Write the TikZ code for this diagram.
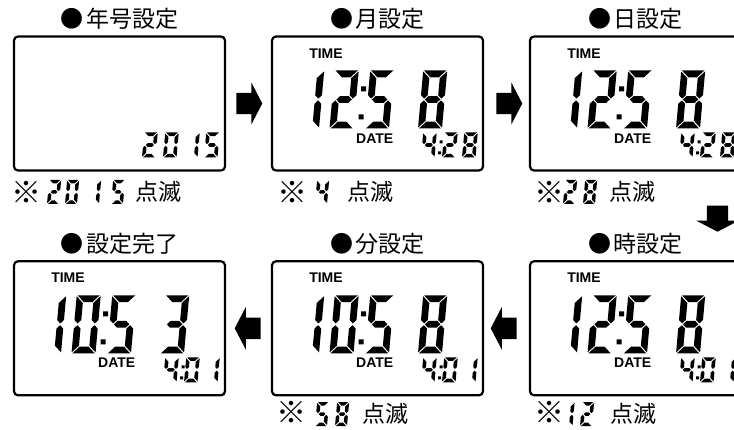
\documentclass[tikz,border=0pt]{standalone}
\usepackage{fontspec}
\setsansfont{Liberation Sans}
\newfontfamily\jpfont{Noto Sans CJK JP}
\usetikzlibrary{shapes.arrows, calc, positioning}

\tikzset{%
  % Specifications for style of nodes:
      screen/.style = {rectangle, rounded corners=4pt, draw=black,
                       line width=2.2pt, minimum width=211pt,
                       minimum height=134pt, inner sep=0pt, outer sep=0pt},
       title/.style = {font=\jpfont\fontsize{23}{26}\selectfont,
                       inner sep=0pt, anchor=base},
        note/.style = {title},
    notemark/.style = {font=\jpfont\fontsize{30}{32}\selectfont,
                       inner sep=0pt, anchor=base},
      lcdtag/.style = {font=\sffamily\bfseries\fontsize{14}{16}\selectfont,
                       inner sep=0pt},
  blockarrow/.style = {single arrow, fill=black, draw=none,
                       inner xsep=0pt, inner ysep=10.5pt,
                       minimum height=26pt, single arrow head extend=10.5pt,
                       single arrow tip angle=125},
}

% seven segment digits (a top, b/c right, d bottom, e/f left, g middle)
\newcommand\sega{\fill (\lcdG,\lcdH) -- ({\lcdW-\lcdG},\lcdH)
  -- ({\lcdW-\lcdT-\lcdG},{\lcdH-\lcdT}) -- ({\lcdT+\lcdG},{\lcdH-\lcdT}) -- cycle;}
\newcommand\segd{\fill (\lcdG,0) -- ({\lcdW-\lcdG},0)
  -- ({\lcdW-\lcdT-\lcdG},\lcdT) -- ({\lcdT+\lcdG},\lcdT) -- cycle;}
\newcommand\segb{\fill (\lcdW,{\lcdH-\lcdG}) -- ({\lcdW-\lcdT},{\lcdH-\lcdT-\lcdG})
  -- ({\lcdW-\lcdT},{\lcdH/2+\lcdh+\lcdG}) -- ({\lcdW-\lcdh},{\lcdH/2+\lcdG})
  -- (\lcdW,{\lcdH/2+\lcdh+\lcdG}) -- cycle;}
\newcommand\segc{\fill (\lcdW,\lcdG) -- ({\lcdW-\lcdT},{\lcdT+\lcdG})
  -- ({\lcdW-\lcdT},{\lcdH/2-\lcdh-\lcdG}) -- ({\lcdW-\lcdh},{\lcdH/2-\lcdG})
  -- (\lcdW,{\lcdH/2-\lcdh-\lcdG}) -- cycle;}
\newcommand\sege{\fill (0,\lcdG) -- (\lcdT,{\lcdT+\lcdG})
  -- (\lcdT,{\lcdH/2-\lcdh-\lcdG}) -- (\lcdh,{\lcdH/2-\lcdG})
  -- (0,{\lcdH/2-\lcdh-\lcdG}) -- cycle;}
\newcommand\segf{\fill (0,{\lcdH-\lcdG}) -- (\lcdT,{\lcdH-\lcdT-\lcdG})
  -- (\lcdT,{\lcdH/2+\lcdh+\lcdG}) -- (\lcdh,{\lcdH/2+\lcdG})
  -- (0,{\lcdH/2+\lcdh+\lcdG}) -- cycle;}
\newcommand\segg{\fill ({\lcdh+\lcdG},{\lcdH/2}) -- ({\lcdT+\lcdG},{\lcdH/2+\lcdh})
  -- ({\lcdW-\lcdT-\lcdG},{\lcdH/2+\lcdh}) -- ({\lcdW-\lcdh-\lcdG},{\lcdH/2})
  -- ({\lcdW-\lcdT-\lcdG},{\lcdH/2-\lcdh}) -- ({\lcdT+\lcdG},{\lcdH/2-\lcdh}) -- cycle;}
\def\lcdzero{a,b,c,d,e,f}
\def\lcdone{b,c}
\def\lcdtwo{a,b,g,e,d}
\def\lcdthree{a,b,g,c,d}
\def\lcdfour{f,g,b,c}
\def\lcdfive{a,f,g,c,d}
\def\lcdeight{a,b,c,d,e,f,g}
\newcommand\lcddigit[6]{% x, y, width, height, stroke, segments
  \begin{scope}[shift={(#1,#2)}]
  \begin{scope}[xslant=0.09]
    \def\lcdW{#3}\def\lcdH{#4}\def\lcdT{#5}\pgfmathsetmacro\lcdh{#5/2}
    \def\lcdG{0.9}
    \foreach \s in #6 {\csname seg\s\endcsname}
  \end{scope}
  \end{scope}}
\newcommand\bigdigit[3]{\lcddigit{#1}{#2}{24}{58}{6.8}{#3}}
\newcommand\smalldigit[3]{\lcddigit{#1}{#2}{13.5}{25}{3.6}{#3}}
\newcommand\notedigit[3]{\lcddigit{#1}{#2}{12}{24}{3.5}{#3}}

% TIME / DATE read-out inside a panel
\newcommand\clockface[8]{%
  \node (#1-time) [lcdtag] at ($(#1.north west)+(54,-16.7)$) {TIME};
  \node (#1-date) [lcdtag] at ($(#1.north west)+(102.7,-101.7)$) {DATE};
  \begin{scope}[shift={(#1.south west)}]
    \bigdigit{23}{42}{#2} \bigdigit{57.5}{42}{#3}
    \bigdigit{93}{42}{#4} \bigdigit{146}{42}{#5}
    \fill (86.5,51) rectangle ++(5,5) (89,79) rectangle ++(5,5);
    \smalldigit{149}{13}{#6} \smalldigit{170}{13}{#7}
    \smalldigit{190}{13}{#8}
    \fill (166,16) rectangle ++(3,3) (167.5,27) rectangle ++(3,3);
  \end{scope}}

\begin{document}
\begin{tikzpicture}[x=1pt, y=1pt, node distance=258pt]
  \useasboundingbox (0,0) rectangle (734,429);
  \clip (0,0) rectangle (734,429);
  % Specification of panels (upper row, then lower row)
  \node (year)   [screen] at (119.5,325.5) {};
  \node (month)  [screen, right of=year]   {};
  \node (day)    [screen, right of=month]  {};
  \node (done)   [screen] at (119.5,100.7) {};
  \node (minute) [screen, right of=done]   {};
  \node (hour)   [screen, right of=minute] {};

  % titles above the panels
  \node (tyear)   [above=9pt of year, title]   {●\hspace{3pt}年号設定};
  \node (tmonth)  [above=9pt of month, title]  {●\hspace{3pt}月設定};
  \node (tday)    [above=9pt of day, title]    {●\hspace{3pt}日設定};
  \node (tdone)   [above=9pt of done, title]   {●\hspace{3pt}設定完了};
  \node (tminute) [above=9pt of minute, title] {●\hspace{3pt}分設定};
  \node (thour)   [above=9pt of hour, title]   {●\hspace{3pt}時設定};

  % what the panels show
  \begin{scope}[shift={(year.south west)}]
    \smalldigit{128}{13}{\lcdtwo}   \smalldigit{149}{13}{\lcdzero}
    \smalldigit{170}{13}{\lcdone}   \smalldigit{190}{13}{\lcdfive}
  \end{scope}
  \clockface{month}{\lcdone}{\lcdtwo}{\lcdfive}{\lcdeight}{\lcdfour}{\lcdtwo}{\lcdeight}
  \clockface{day}{\lcdone}{\lcdtwo}{\lcdfive}{\lcdeight}{\lcdfour}{\lcdtwo}{\lcdeight}
  \clockface{hour}{\lcdone}{\lcdtwo}{\lcdfive}{\lcdeight}{\lcdfour}{\lcdzero}{\lcdone}
  \clockface{minute}{\lcdone}{\lcdzero}{\lcdfive}{\lcdeight}{\lcdfour}{\lcdzero}{\lcdone}
  \clockface{done}{\lcdone}{\lcdzero}{\lcdfive}{\lcdthree}{\lcdfour}{\lcdzero}{\lcdone}

  % notes on what blinks
  \node (nyear)   [notemark] at (26.5,225.6) {※};
  \node (byear)   [note] at (158.5,228.3) {点滅};
  \notedigit{47}{225}{\lcdtwo} \notedigit{65}{225}{\lcdzero}
  \notedigit{87}{225}{\lcdone} \notedigit{111}{225}{\lcdfive}
  \node (nmonth)  [notemark] at (292.5,225.6) {※};
  \node (bmonth)  [note] at (370,228.3)   {点滅};
  \notedigit{315}{225}{\lcdfour}
  \node (nday)    [notemark] at (549,225.6) {※};
  \node (bday)    [note] at (632,228.3)   {点滅};
  \notedigit{563}{225}{\lcdtwo} \notedigit{583}{225}{\lcdeight}
  \node (nminute) [notemark] at (291.5,5.1) {※};
  \node (bminute) [note] at (385,6.5)     {点滅};
  \notedigit{315}{3}{\lcdfive} \notedigit{335}{3}{\lcdeight}
  \node (nhour)   [notemark] at (549,5.1)  {※};
  \node (bhour)   [note] at (633.5,6.5)   {点滅};
  \notedigit{560.5}{3}{\lcdone} \notedigit{580}{3}{\lcdtwo}

  % arrows between the panels
  \node (ym) [blockarrow, xshift=-2pt] at ($(year.east)!0.5!(month.west)$) {};
  \node (md) [blockarrow] at ($(month.east)!0.5!(day.west)$) {};
  \node (dh) [blockarrow, rotate=-90]
             at ($(day.south)!0.5!(hour.north)+(82,0)$) {};
  \node (hm) [blockarrow, rotate=180]
             at ($(hour.west)!0.5!(minute.east)$) {};
  \node (mf) [blockarrow, rotate=180, xshift=-2pt]
             at ($(minute.west)!0.5!(done.east)$) {};
\end{tikzpicture}
\end{document}
